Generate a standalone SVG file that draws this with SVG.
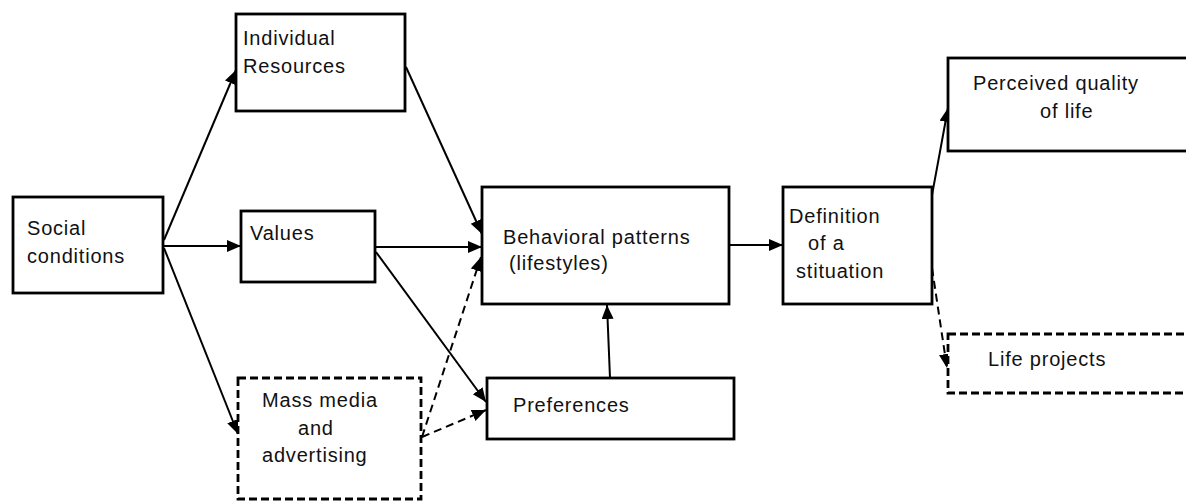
<svg xmlns="http://www.w3.org/2000/svg" width="1186" height="502" viewBox="0 0 1186 502">
<style>
.box{fill:#fff;stroke:#000;stroke-width:2.8}
.dbox{fill:#fff;stroke:#000;stroke-width:2.8;stroke-dasharray:8 4}
.ln{stroke:#000;stroke-width:2;fill:none;marker-end:url(#ah)}
.dl{stroke:#000;stroke-width:2;fill:none;stroke-dasharray:8 5;marker-end:url(#ah)}
text{font-family:"Liberation Sans",Arial,sans-serif;font-size:20px;fill:#111;letter-spacing:0.8px}
</style>
<defs>
<marker id="ah" markerUnits="userSpaceOnUse" markerWidth="16" markerHeight="14" refX="14" refY="6" orient="auto">
<path d="M0,0 L14,6 L0,12 z" fill="#000"/>
</marker>
</defs>
<rect width="1186" height="502" fill="#fff"/>
<g id="connectors">
<line class="ln" x1="164" y1="240" x2="236" y2="70"/>
<line class="ln" x1="164" y1="246" x2="241" y2="246"/>
<line class="ln" x1="164" y1="248" x2="238" y2="434"/>
<line class="ln" x1="406" y1="67" x2="482" y2="234"/>
<line class="ln" x1="375" y1="247" x2="482" y2="247"/>
<line class="ln" x1="376" y1="252" x2="486" y2="402"/>
<line class="dl" x1="422" y1="437" x2="481" y2="257"/>
<line class="dl" x1="422" y1="437" x2="486" y2="410"/>
<line class="ln" x1="610" y1="378" x2="607" y2="305"/>
<line class="ln" x1="729" y1="245" x2="783" y2="245"/>
<polyline class="ln" points="931,265 932,195 948,108"/>
<line class="dl" x1="932" y1="268" x2="947" y2="368"/>
</g>
<g id="social">
<rect class="box" x="13" y="197" width="150" height="96"/>
<text x="27" y="235">Social</text>
<text x="27" y="263">conditions</text>
</g>
<g id="individual-resources">
<rect class="box" x="236" y="14" width="169" height="97"/>
<text x="243" y="45">Individual</text>
<text x="243" y="73">Resources</text>
</g>
<g id="values">
<rect class="box" x="241" y="211" width="134" height="71"/>
<text x="250" y="240">Values</text>
</g>
<g id="mass-media">
<rect class="dbox" x="238" y="378" width="183" height="121"/>
<text x="262" y="407">Mass media</text>
<text x="298" y="435">and</text>
<text x="262" y="462">advertising</text>
</g>
<g id="behavioral">
<rect class="box" x="482" y="187" width="247" height="117"/>
<text x="503" y="244">Behavioral patterns</text>
<text x="509" y="270">(lifestyles)</text>
</g>
<g id="preferences">
<rect class="box" x="487" y="378" width="247" height="61"/>
<text x="513" y="412">Preferences</text>
</g>
<g id="definition">
<rect class="box" x="783" y="187" width="149" height="117"/>
<text x="789" y="223">Definition</text>
<text x="808" y="250">of a</text>
<text x="796" y="278">stituation</text>
</g>
<g id="perceived">
<rect class="box" x="948" y="58" width="250" height="93"/>
<text x="973" y="90">Perceived quality</text>
<text x="1040" y="118">of life</text>
</g>
<g id="life-projects">
<rect class="dbox" x="948" y="334" width="250" height="59"/>
<text x="988" y="366">Life projects</text>
</g>
</svg>
